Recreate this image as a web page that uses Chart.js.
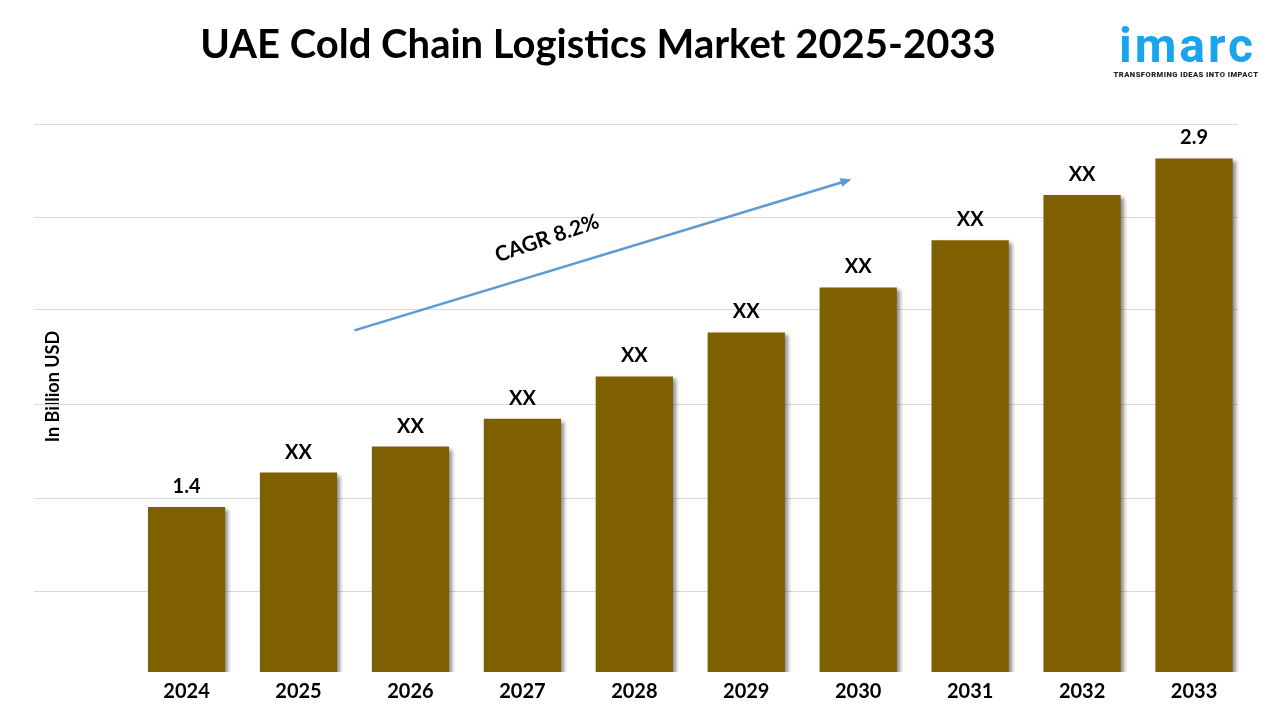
<!DOCTYPE html>
<html lang="en">
<head>
    <meta charset="UTF-8">
    <title>UAE Cold Chain Logistics Market 2025-2033</title>
    <style>
        body {
            margin: 0;
            background: #fff;
            font-family: Lato, "Open Sans", sans-serif;
        }
        #wrap {
            position: relative;
            width: 1280px;
            height: 720px;
        }
        #title {
            position: absolute;
            left: 0;
            top: 20px;
            width: 1196px;
            text-align: center;
            font-weight: bold;
            font-size: 40px;
            line-height: 46px;
            color: #000;
        }
        #logo {
            position: absolute;
            left: 1106px;
            top: 20px;
            width: 160px;
            text-align: center;
        }
        #logo .name {
            font-family: Roboto, sans-serif;
            font-weight: 700;
            font-size: 48px;
            line-height: 52px;
            color: #1ba3ee;
            letter-spacing: 3px;
            padding-left: 3px;
        }
        #logo .tag {
            font-family: Roboto, sans-serif;
            font-weight: 900;
            font-size: 7.6px;
            line-height: 9px;
            color: #222;
            letter-spacing: 0.45px;
            margin-top: -2px;
        }
    </style>
    <script src="https://cdn.jsdelivr.net/npm/chart.js@4.4.0/dist/chart.umd.min.js"></script>
</head>
<body>
<div id="wrap">
    <canvas id="market-chart" width="1280" height="720"></canvas>
    <div id="title">UAE Cold Chain Logistics Market 2025-2033</div>
    <div id="logo">
        <div class="name">imarc</div>
        <div class="tag">TRANSFORMING IDEAS INTO IMPACT</div>
    </div>
</div>
<script>
    const years = ['2024', '2025', '2026', '2027', '2028', '2029', '2030', '2031', '2032', '2033'];
    const marketSize = [1.4, 1.548, 1.66, 1.78, 1.962, 2.151, 2.345, 2.548, 2.742, 2.9];
    const barLabels = ['1.4', 'XX', 'XX', 'XX', 'XX', 'XX', 'XX', 'XX', 'XX', '2.9'];
    const gridValues = [1.04, 1.44, 1.845, 2.25, 2.65, 3.05];

    const yMin = 0.69, yMax = 3.147;
    const cagrText = 'CAGR 8.2%';
    // arrow runs in data space: category index / value
    const arrowFrom = {x: 1.5, y: 2.16};
    const arrowTo = {x: 5.94, y: 2.81};
    const cagrAt = {x: 3.22, y: 2.556};

    const BAR_COLOR = '#7f6000';
    const ARROW_COLOR = '#5b9bd5';
    const FONT = 'Lato, "Open Sans", sans-serif';

    // gridlines reach further left than the plot area, like the original
    const gridPlugin = {
        id: 'wideGrid',
        beforeDatasetsDraw(chart) {
            const {ctx, scales: {y}} = chart;
            ctx.save();
            ctx.strokeStyle = '#d9d9d9';
            ctx.lineWidth = 1;
            gridValues.forEach(v => {
                const py = Math.round(y.getPixelForValue(v)) + 0.5;
                ctx.beginPath();
                ctx.moveTo(34, py);
                ctx.lineTo(1238, py);
                ctx.stroke();
            });
            ctx.restore();
            // soft shadow behind bars
            ctx.save();
            ctx.shadowColor = 'rgba(0,0,0,0.45)';
            ctx.shadowBlur = 4;
            ctx.shadowOffsetX = 3;
            ctx.shadowOffsetY = 3;
        },
        afterDatasetsDraw(chart) {
            const {ctx, scales: {x, y}} = chart;
            ctx.restore();

            // value labels over bars
            ctx.save();
            ctx.fillStyle = '#000';
            ctx.font = 'bold 20px ' + FONT;
            ctx.textAlign = 'center';
            ctx.textBaseline = 'alphabetic';
            chart.getDatasetMeta(0).data.forEach((bar, i) => {
                ctx.fillText(barLabels[i], bar.x, bar.y - 14);
            });
            ctx.restore();

            // CAGR arrow
            const x1 = x.getPixelForValue(arrowFrom.x), y1 = y.getPixelForValue(arrowFrom.y);
            const x2 = x.getPixelForValue(arrowTo.x), y2 = y.getPixelForValue(arrowTo.y);
            const ang = Math.atan2(y2 - y1, x2 - x1);
            ctx.save();
            ctx.strokeStyle = ARROW_COLOR;
            ctx.fillStyle = ARROW_COLOR;
            ctx.lineWidth = 2.6;
            ctx.beginPath();
            ctx.moveTo(x1, y1);
            ctx.lineTo(x2 - 8 * Math.cos(ang), y2 - 8 * Math.sin(ang));
            ctx.stroke();
            ctx.translate(x2, y2);
            ctx.rotate(ang);
            ctx.beginPath();
            ctx.moveTo(0, 0);
            ctx.lineTo(-11, -4.5);
            ctx.lineTo(-11, 4.5);
            ctx.closePath();
            ctx.fill();
            ctx.restore();

            ctx.save();
            ctx.translate(x.getPixelForValue(cagrAt.x), y.getPixelForValue(cagrAt.y));
            ctx.rotate(-19 * Math.PI / 180);
            ctx.fillStyle = '#000';
            ctx.font = 'bold 21px ' + FONT;
            ctx.textAlign = 'center';
            ctx.textBaseline = 'middle';
            ctx.fillText(cagrText, 0, 0);
            ctx.restore();
        }
    };

    new Chart(document.getElementById('market-chart').getContext('2d'), {
        type: 'bar',
        data: {
            labels: years,
            datasets: [{
                label: 'UAE Cold Chain Logistics Market',
                data: marketSize,
                backgroundColor: BAR_COLOR,
                borderWidth: 0,
                barPercentage: 0.69,
                categoryPercentage: 1.0
            }]
        },
        options: {
            responsive: false,
            animation: false,
            layout: {
                padding: {left: 0, right: 30, top: 101, bottom: 8}
            },
            plugins: {
                legend: {display: false},
                tooltip: {enabled: false}
            },
            scales: {
                x: {
                    grid: {display: false, drawTicks: false},
                    border: {display: false},
                    ticks: {
                        color: '#000',
                        padding: 8,
                        font: {family: FONT, size: 20, weight: 'bold'}
                    }
                },
                y: {
                    min: yMin,
                    max: yMax,
                    grid: {display: false, drawTicks: false},
                    border: {display: false},
                    ticks: {display: false},
                    title: {
                        display: true,
                        text: 'In Billion USD',
                        color: '#000',
                        font: {family: FONT, size: 18, weight: 'bold', lineHeight: 1.2},
                        padding: {top: 42, bottom: 67}
                    }
                }
            }
        },
        plugins: [gridPlugin]
    });
</script>
</body>
</html>
